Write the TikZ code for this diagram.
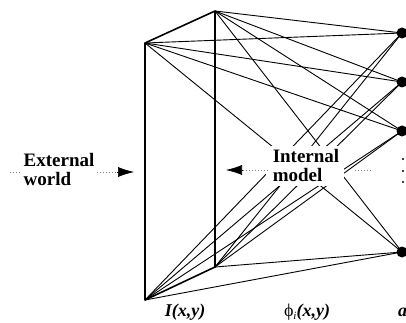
\documentclass[tikz,border=0pt]{standalone}
\usepackage{fontspec}
\setmainfont{Liberation Serif}
\usetikzlibrary{arrows.meta}
\begin{document}
\begin{tikzpicture}[x=1pt,y=-1pt,
  edge/.style={line width=1.6pt},
  conn/.style={line width=0.9pt},
  unit/.style={circle,fill=black,inner sep=0pt,minimum size=11pt},
  flow/.style={gray,dotted,line width=1pt},
  headtip/.style={-{Latex[length=16pt,width=10pt]},line width=0.6pt},
  lbl/.style={font=\bfseries\fontsize{19}{19}\selectfont,align=left,inner sep=0pt},
  axis/.style={font=\fontsize{18}{18}\selectfont,inner sep=0pt}]
\useasboundingbox (0,0) rectangle (406,323);
% plane corners
\coordinate (A) at (145,43);
\coordinate (B) at (215,11);
\coordinate (C) at (145,300);
\coordinate (D) at (215,267);
% units
\coordinate (n1) at (402,33);
\coordinate (n2) at (402,82);
\coordinate (n3) at (402,131);
\coordinate (n4) at (402,252);
\foreach \n in {n1,n2,n3,n4}
  \foreach \p in {A,B,C,D}
    \draw[conn] (\p) -- (\n);
\draw[edge,line join=round] (C) -- (A) -- (B) -- (D) -- cycle;
\foreach \n in {n1,n2,n3,n4}
  \node[unit] (u\n) at (\n) {};
% dots
\foreach \y in {159,171,182} \fill (403,\y) circle (1.1);
% internal model
\fill[white] (266,146) rectangle (344,186);
\node[lbl] (im) at (306,166) {Internal\\model};
\coordinate (ia) at (268,170);
\coordinate (ib) at (242,170);
\coordinate (ic) at (226,170);
\draw[flow] (ia) -- (ib);
\draw[headtip] (ib) -- (ic);
\coordinate (ra) at (355,170);
\coordinate (rb) at (372,170);
\draw[flow] (ra) -- (rb);
% external world
\node[lbl] (ew) at (59,170) {External\\world};
\coordinate (ea) at (10,172);
\coordinate (eb) at (22,172);
\draw[flow] (ea) -- (eb);
\coordinate (ec) at (97,172);
\coordinate (ed) at (117,172);
\coordinate (ee) at (134,172);
\draw[flow] (ec) -- (ed);
\draw[headtip] (ed) -- (ee);
% bottom labels
\node[axis] (lI) at (185,312) {\textbf{\textit{I(x,y)}}};
\node[axis] (lphi) at (307,312) {ϕ\raisebox{-0.35ex}{\fontsize{11}{11}\selectfont\textit{i}}\textbf{\textit{(x,y)}}};
\node[axis,anchor=west] (la) at (398,312) {\textbf{\textit{a}}};
\end{tikzpicture}
\end{document}
